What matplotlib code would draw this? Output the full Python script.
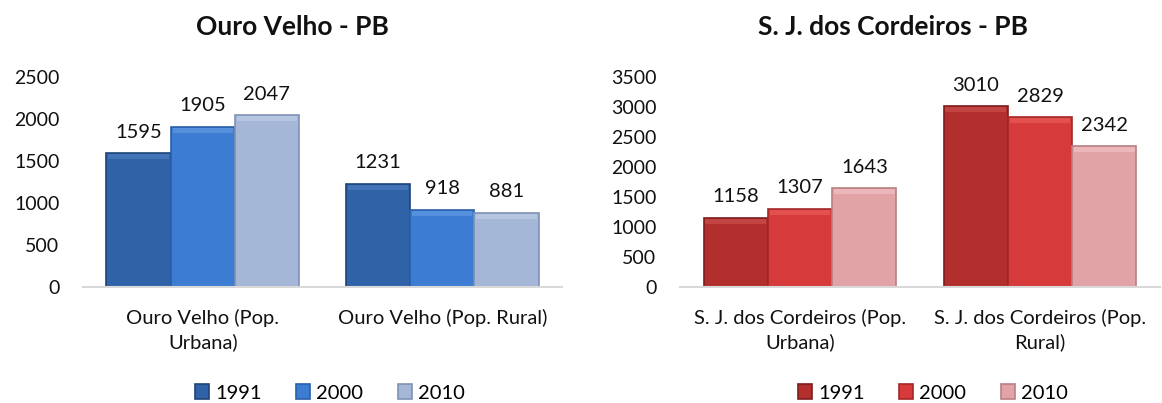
import matplotlib
matplotlib.use("Agg")
import matplotlib.pyplot as plt
import numpy as np

plt.rcParams['font.family'] = ['Lato', 'DejaVu Sans']

# dados
anos = ["1991", "2000", "2010"]

titulo_ov = "Ouro Velho - PB"
cat_ov = ["Ouro Velho (Pop.\nUrbana)", "Ouro Velho (Pop. Rural)"]
ov_1991 = [1595, 1231]
ov_2000 = [1905, 918]
ov_2010 = [2047, 881]

titulo_sj = "S. J. dos Cordeiros - PB"
cat_sj = ["S. J. dos Cordeiros (Pop.\nUrbana)", "S. J. dos Cordeiros (Pop.\nRural)"]
sj_1991 = [1158, 3010]
sj_2000 = [1307, 2829]
sj_2010 = [1643, 2342]

cores_azul = ["#2F62A6", "#3C7DD3", "#A4B7D7"]
bordas_azul = ["#1E4478", "#2A5FA8", "#7F92B4"]
topo_azul = ["#4474B8", "#568FDC", "#B6C6E0"]
cores_verm = ["#B22F2E", "#D73A3B", "#E2A3A6"]
bordas_verm = ["#7E1E1E", "#A32828", "#B98084"]
topo_verm = ["#C24443", "#E25050", "#EBB7BA"]

W, H = 1162, 403
fig = plt.figure(figsize=(W / 100, H / 100), dpi=100)


def painel(rect, titulo, categorias, series, cores, bordas, topos, ymax, passo, tx):
    ax = fig.add_axes(rect)
    x = np.arange(len(categorias))
    largura = 0.268
    faixa = ymax * 5 / 210  # faixa clara no topo (efeito bisel)
    handles = []
    for i, (vals, cor, borda, topo) in enumerate(zip(series, cores, bordas, topos)):
        pos = x + (i - 1) * largura
        b = ax.bar(pos, vals, largura, color=cor, edgecolor=borda, linewidth=1.2, zorder=2)
        ax.bar(pos, faixa, largura * 0.94, bottom=np.array(vals) - faixa * 1.2,
               color=topo, linewidth=0, zorder=3)
        handles.append(b)
        for xi, v in zip(pos, vals):
            ax.annotate(str(v), (xi, v), xytext=(0, 9), textcoords="offset points",
                        ha="center", va="bottom", fontsize=14.5, color="#111111")
    ax.set_xlim(-0.5, 1.5)
    ax.set_ylim(0, ymax)
    ax.set_yticks(np.arange(0, ymax + 1, passo))
    ax.set_xticks(x)
    ax.set_xticklabels(categorias, fontsize=14.5, linespacing=1.4)
    ax.tick_params(axis="both", length=0, colors="#111111")
    ax.tick_params(axis="y", labelsize=14, pad=17)
    ax.tick_params(axis="x", pad=16)
    for s in ["left", "right", "top"]:
        ax.spines[s].set_visible(False)
    ax.spines["bottom"].set_color("#D9D9D9")
    ax.spines["bottom"].set_linewidth(1.5)
    fig.text(tx, 1 - 27 / H, titulo, ha="center", va="center",
             fontsize=19, fontweight="bold", color="#111111")
    ax.legend(handles, anos, loc="center", bbox_to_anchor=(0, 0),
              ncol=3, frameon=False, fontsize=14.5,
              handlelength=0.7, handleheight=0.7, handletextpad=0.3, columnspacing=1.7)
    return ax


ax1 = painel([83 / W, 1 - 287 / H, (562 - 83) / W, (287 - 77) / H],
             titulo_ov, cat_ov, [ov_1991, ov_2000, ov_2010],
             cores_azul, bordas_azul, topo_azul, 2500, 500, 292 / W)
ax1.get_legend().set_bbox_to_anchor((330 / W, 1 - 393 / H), transform=fig.transFigure)

ax2 = painel([680 / W, 1 - 287 / H, (1160 - 680) / W, (287 - 77) / H],
             titulo_sj, cat_sj, [sj_1991, sj_2000, sj_2010],
             cores_verm, bordas_verm, topo_verm, 3500, 500, 893 / W)
ax2.get_legend().set_bbox_to_anchor((933 / W, 1 - 393 / H), transform=fig.transFigure)

fig.savefig("out.png", dpi=100)
